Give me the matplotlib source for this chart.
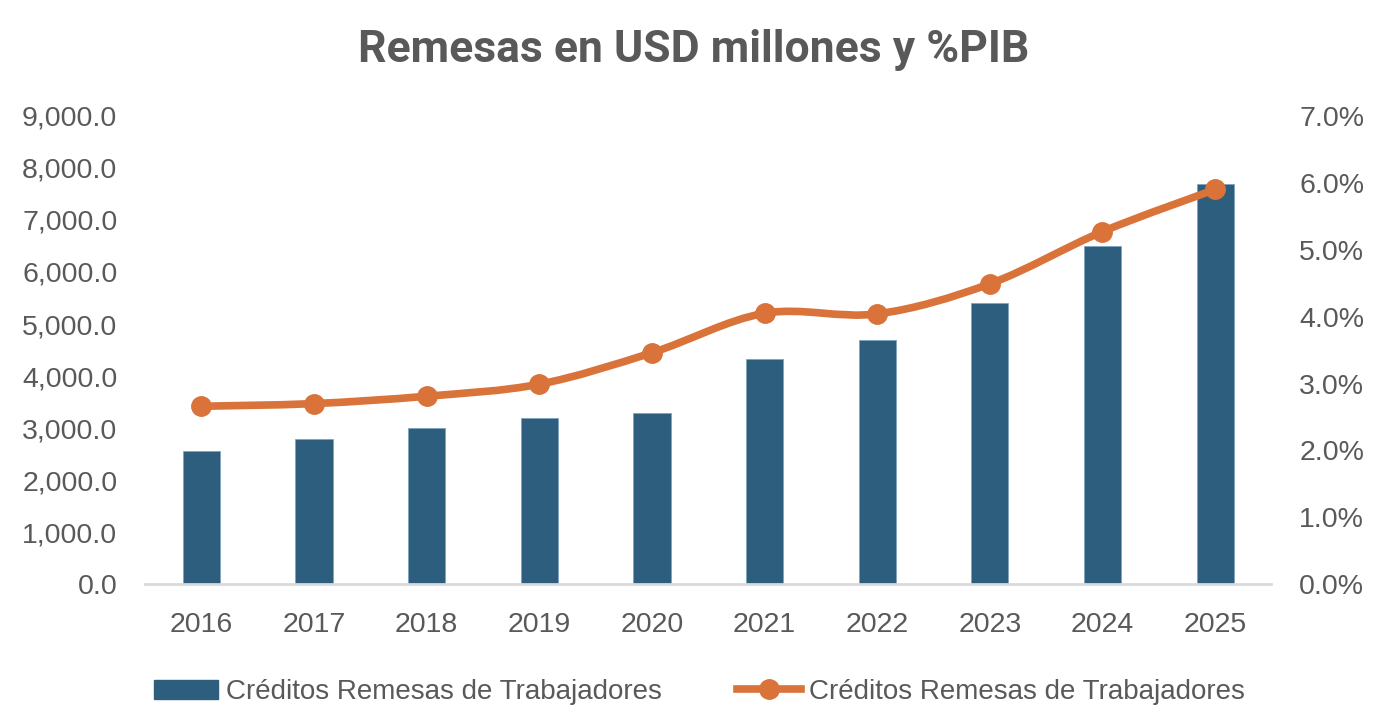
import numpy as np
import matplotlib
matplotlib.use('Agg')
import matplotlib.pyplot as plt
from matplotlib.path import Path
from matplotlib.patches import PathPatch, Patch
from matplotlib.lines import Line2D
from matplotlib.ticker import FuncFormatter, MultipleLocator

years = ['2016', '2017', '2018', '2019', '2020', '2021', '2022', '2023', '2024', '2025']
remesas_usd = [2560, 2800, 2995, 3190, 3295, 4325, 4690, 5405, 6505, 7695]
remesas_pib = [2.66, 2.70, 2.81, 2.99, 3.46, 4.05, 4.04, 4.49, 5.27, 5.90]
label = 'Créditos Remesas de Trabajadores'

bar_color = '#2E5E7E'
line_color = '#D9733A'
text_color = '#595959'

plt.rcParams['font.family'] = ['Liberation Sans', 'DejaVu Sans']

fig = plt.figure(figsize=(13.82, 7.24), dpi=100)
ax = fig.add_axes([0.105, 0.193, 0.815, 0.647])
ax2 = ax.twinx()

x = np.arange(len(years))
ax.bar(x, remesas_usd, width=0.33, color=bar_color, edgecolor='#7FA3BD', linewidth=0.6, zorder=2)
ax.set_xlim(-0.5, len(years) - 0.5)
ax.set_ylim(0, 9000)
ax.yaxis.set_major_locator(MultipleLocator(1000))
ax.yaxis.set_major_formatter(FuncFormatter(lambda v, p: f'{v:,.1f}'))
ax.set_xticks(x)
ax.set_xticklabels(years)

ax2.set_ylim(0, 7)
ax2.yaxis.set_major_locator(MultipleLocator(1))
ax2.yaxis.set_major_formatter(FuncFormatter(lambda v, p: f'{v:.1f}%'))

# smoothed line like excel (bezier through the points)
pts = np.column_stack([x, remesas_pib])
verts = [pts[0]]
codes = [Path.MOVETO]
n = len(pts)
for i in range(n - 1):
    p0 = pts[i - 1] if i > 0 else pts[i]
    p1 = pts[i]
    p2 = pts[i + 1]
    p3 = pts[i + 2] if i + 2 < n else pts[i + 1]
    c1 = p1 + (p2 - p0) / 6.0
    c2 = p2 - (p3 - p1) / 6.0
    verts += [c1, c2, p2]
    codes += [Path.CURVE4] * 3
ax2.add_patch(PathPatch(Path(verts, codes), facecolor='none', edgecolor=line_color,
                        linewidth=5.5, capstyle='round', zorder=3))
ax2.plot(x, remesas_pib, linestyle='none', marker='o', markersize=14,
         color=line_color, zorder=4)

for a in (ax, ax2):
    for s in a.spines.values():
        s.set_visible(False)
    a.tick_params(length=0, labelsize=20.5, labelcolor=text_color)
ax.spines['bottom'].set_visible(True)
ax.spines['bottom'].set_color('#D9D9D9')
ax.spines['bottom'].set_linewidth(2)
ax.tick_params(axis='y', pad=20)
ax.tick_params(axis='x', pad=20)
ax2.tick_params(axis='y', pad=20)

fig.suptitle('Remesas en USD millones y %PIB', x=0.502, y=0.96, fontsize=32,
             fontweight='bold', color=text_color, family=['Roboto', 'DejaVu Sans'])

handles = [Patch(facecolor=bar_color, edgecolor=bar_color),
           Line2D([0], [0], color=line_color, linewidth=5.5, marker='o', markersize=14)]
fig.legend(handles, [label, label], loc='center', bbox_to_anchor=(0.506, 0.044), ncol=2,
           frameon=False, fontsize=20, labelcolor=text_color, handlelength=2.3,
           handletextpad=0.3, columnspacing=2.7)

fig.savefig('out.png', dpi=100)
